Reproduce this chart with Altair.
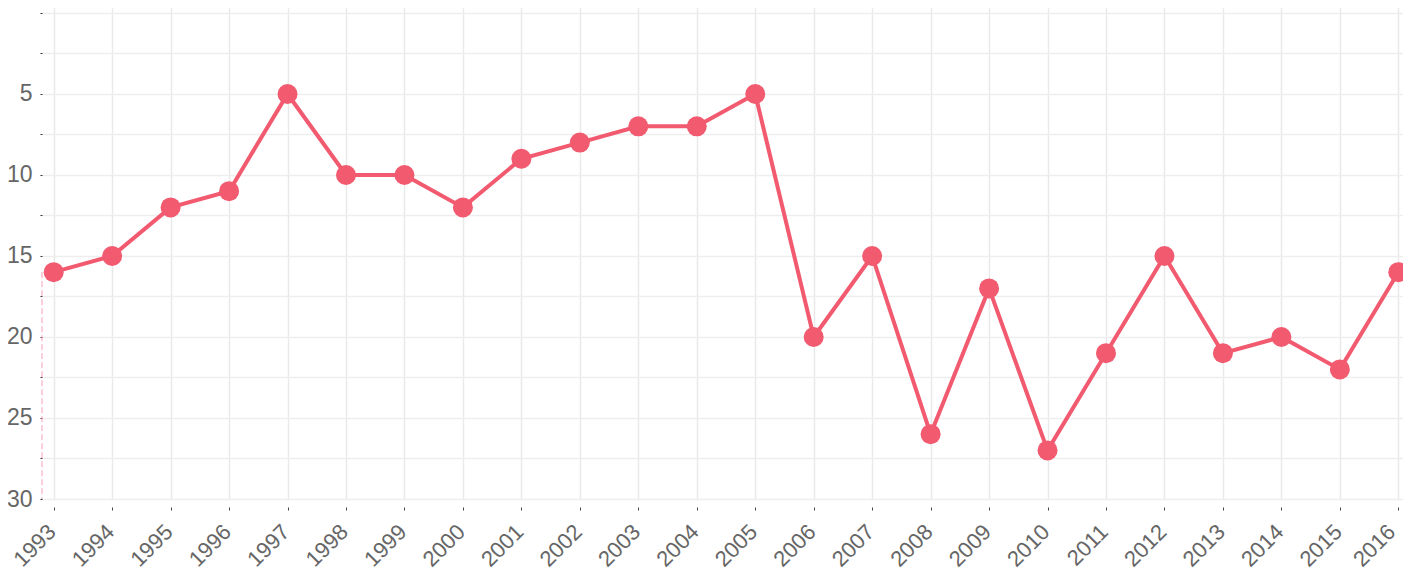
import altair as alt
import pandas as pd

years = list(range(1993, 2017))
ranks = [16, 15, 12, 11, 5, 10, 10, 12, 9, 8, 7, 7, 5, 20, 15, 26, 17, 27, 21, 15, 21, 20, 22, 16]
y_ticks = [0, 2.5, 5, 7.5, 10, 12.5, 15, 17.5, 20, 22.5, 25, 27.5, 30]

df = pd.DataFrame({"year": years, "rank": ranks})
COLOR = "#f25a70"
FONT = "Liberation Sans"

xscale = alt.Scale(domain=[1992.8, 2016.2], nice=False, zero=False)
yscale = alt.Scale(domain=[-0.8, 30], reverse=True, nice=False, zero=False)

x_axis = alt.Axis(
    values=years, format="d", labelAngle=-45, labelAlign="right", labelBaseline="middle",
    labelFontSize=22, labelColor="#666666", labelFont=FONT, labelPadding=18,
    labelOffset={"condition": {"test": "datum.value == 2016", "value": -7}, "value": -2},
    tickSize=3, tickColor="#444444", offset=8, domain=False,
    gridColor="#e9e9e9", gridWidth=1.5, title=None, labelOverlap=False,
)
y_axis = alt.Axis(
    values=y_ticks, labelExpr="datum.value % 5 == 0 && datum.value > 0 ? datum.value : ''",
    labelFontSize=23, labelColor="#666666", labelFont=FONT, labelPadding=8,
    tickSize=2, tickColor="#333333", domain=False,
    gridColor="#eeeeee", gridWidth=1.5, title=None,
)

base = alt.Chart(df)

line = base.mark_line(color=COLOR, strokeWidth=4).encode(
    x=alt.X("year:Q", scale=xscale, axis=x_axis),
    y=alt.Y("rank:Q", scale=yscale, axis=y_axis),
)
points = base.mark_point(filled=True, color=COLOR, size=400, opacity=1).encode(
    x=alt.X("year:Q", scale=xscale),
    y=alt.Y("rank:Q", scale=yscale),
)
edge = alt.Chart(pd.DataFrame({"y1": [ranks[0]], "y2": [30]})).mark_rule(
    color="#f7a0b4", strokeWidth=1, strokeDash=[6, 3]
).encode(
    x=alt.value(0),
    y=alt.Y("y1:Q", scale=yscale),
    y2="y2:Q",
)

chart = alt.layer(edge, line, points).properties(
    width=1368, height=499,
    padding={"left": 34, "top": -8, "right": -7, "bottom": 74},
    autosize=alt.AutoSizeParams(type="none"),
).configure_view(stroke=None)

chart.save("out.html", embed_options={"renderer": "svg", "actions": False})
